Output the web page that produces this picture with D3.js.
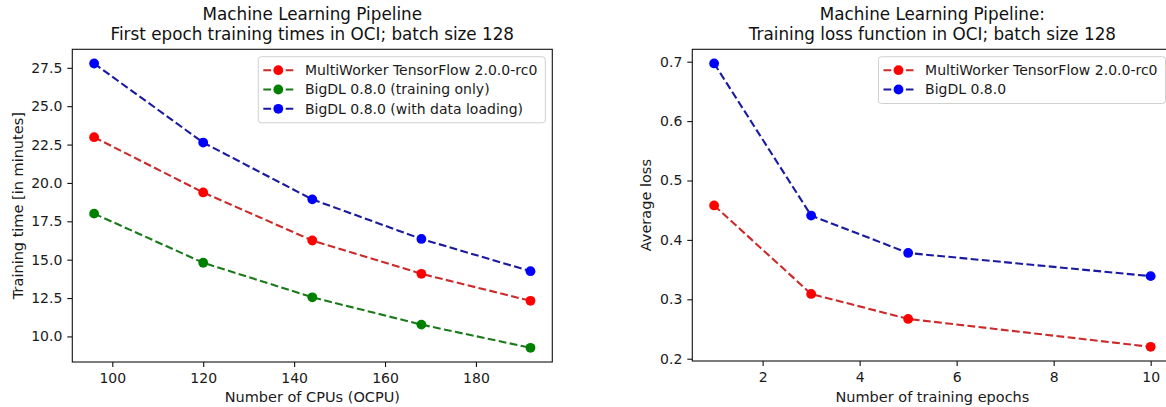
<!DOCTYPE html>
<html>
<head>
<meta charset="utf-8">
<script src="https://cdn.jsdelivr.net/npm/d3@7"></script>
<style>
  body { margin: 0; background: #fff; }
  svg { display: block; font-family: 'DejaVu Sans', sans-serif; }
</style>
</head>
<body>
<div id="chart"></div>
<script>
// left panel: first epoch training time vs number of CPUs
const cpus = [96, 120, 144, 168, 192];
const tfTime = [22.98, 19.38, 16.25, 14.08, 12.32];
const bigdlTrainTime = [18.0, 14.8, 12.55, 10.77, 9.26];
const bigdlLoadTime = [27.78, 22.63, 18.93, 16.35, 14.25];
const cpuTicks = [100, 120, 140, 160, 180];
const timeTicks = [10, 12.5, 15, 17.5, 20, 22.5, 25, 27.5];

// right panel: training loss vs epochs
const epochs = [1, 3, 5, 10];
const tfLoss = [0.458, 0.309, 0.267, 0.22];
const bigdlLoss = [0.697, 0.441, 0.378, 0.339];
const epochTicks = [2, 4, 6, 8, 10];
const lossTicks = [0.2, 0.3, 0.4, 0.5, 0.6, 0.7];

const RED = { marker: '#ff0000', line: '#cc2a2a' };
const GREEN = { marker: '#008000', line: '#1a7a1a' };
const BLUE = { marker: '#0000ff', line: '#1a1aa0' };

const svg = d3.select('#chart').append('svg').attr('width', 1166).attr('height', 407);

// matplotlib style 5% margins on the data range
const padExtent = (vals) => {
  const [lo, hi] = d3.extent(vals);
  const m = (hi - lo) * 0.05;
  return [lo - m, hi + m];
};

const drawPanel = (cfg) => {
  const { box, xs, series, xTicks, yTicks, yFmt, title, xLabel, yLabel, yLabelX } = cfg;

  const x = d3.scaleLinear().domain(padExtent(xs)).range([box.x0, box.x1]);
  const allY = series.reduce((acc, s) => acc.concat(s.values), []);
  const y = d3.scaleLinear().domain(padExtent(allY)).range([box.y1, box.y0]);

  const g = svg.append('g');

  // axes
  const xAxis = g.append('g')
    .attr('transform', `translate(0,${box.y1})`)
    .call(d3.axisBottom(x).tickValues(xTicks).tickSize(5).tickSizeOuter(0).tickPadding(6).tickFormat(d3.format('d')));
  const yAxis = g.append('g')
    .attr('transform', `translate(${box.x0},0)`)
    .call(d3.axisLeft(y).tickValues(yTicks).tickSize(5).tickSizeOuter(0).tickPadding(5).tickFormat(yFmt));
  [xAxis, yAxis].forEach((a) => {
    a.select('.domain').remove();
    a.attr('font-family', 'DejaVu Sans, sans-serif').attr('font-size', 14);
    a.selectAll('line').attr('stroke', '#111').attr('stroke-width', 1.1);
    a.selectAll('text').attr('fill', '#1a1a1a');
  });

  // spines
  g.append('rect')
    .attr('x', box.x0).attr('y', box.y0)
    .attr('width', box.x1 - box.x0).attr('height', box.y1 - box.y0)
    .attr('fill', 'none').attr('stroke', '#111').attr('stroke-width', 1.1);

  // lines + markers
  const line = d3.line().x((d) => x(d[0])).y((d) => y(d[1]));
  series.forEach((s) => {
    const pts = xs.map((v, i) => [v, s.values[i]]);
    g.append('path')
      .attr('d', line(pts))
      .attr('fill', 'none')
      .attr('stroke', s.color.line)
      .attr('stroke-width', 2.1)
      .attr('stroke-dasharray', '7.8,3.4');
    g.selectAll(null).data(pts).enter().append('circle')
      .attr('cx', (d) => x(d[0]))
      .attr('cy', (d) => y(d[1]))
      .attr('r', 4.9)
      .attr('fill', s.color.marker);
  });

  // title, two lines
  const cx = (box.x0 + box.x1) / 2;
  title.forEach((t, i) => {
    svg.append('text')
      .attr('x', cx).attr('y', 20 + i * 19.5)
      .attr('text-anchor', 'middle')
      .attr('font-size', 16.8)
      .attr('fill', '#111')
      .text(t);
  });

  // axis labels
  svg.append('text')
    .attr('x', cx).attr('y', 402)
    .attr('text-anchor', 'middle')
    .attr('font-size', 14.5)
    .attr('fill', '#1a1a1a')
    .text(xLabel);
  svg.append('text')
    .attr('transform', `translate(${yLabelX},${(box.y0 + box.y1) / 2}) rotate(-90)`)
    .attr('text-anchor', 'middle')
    .attr('font-size', 14.5)
    .attr('fill', '#1a1a1a')
    .text(yLabel);

  // legend, upper right
  const leg = svg.append('g');
  const rowH = 19.3;
  const texts = series.map((s) =>
    leg.append('text')
      .attr('y', 0)
      .attr('font-size', 14)
      .attr('fill', '#1a1a1a')
      .attr('dy', '0.35em')
      .text(s.name)
  );
  const textW = d3.max(texts, (t) => t.node().getComputedTextLength());
  const boxW = 5 + 30 + 11.6 + textW + 8;
  const boxH = 13.5 + rowH * (series.length - 1) + 14;
  const lx = box.x1 - 7 - boxW;
  const ly = box.y0 + 7.4;
  leg.insert('rect', ':first-child')
    .attr('x', lx).attr('y', ly)
    .attr('width', boxW).attr('height', boxH)
    .attr('rx', 3)
    .attr('fill', '#fff').attr('fill-opacity', 0.85)
    .attr('stroke', '#d0d0d0').attr('stroke-width', 1);
  series.forEach((s, i) => {
    const ry = ly + 13.5 + i * rowH;
    leg.append('line')
      .attr('x1', lx + 5).attr('x2', lx + 35)
      .attr('y1', ry).attr('y2', ry)
      .attr('stroke', s.color.line)
      .attr('stroke-width', 2.1)
      .attr('stroke-dasharray', '7.8,3.4');
    leg.append('circle')
      .attr('cx', lx + 20).attr('cy', ry).attr('r', 4.9)
      .attr('fill', s.color.marker);
    texts[i].attr('x', lx + 46.6).attr('y', ry);
  });
};

drawPanel({
  box: { x0: 72.3, x1: 552.3, y0: 49.3, y1: 362 },
  xs: cpus,
  series: [
    { name: 'MultiWorker TensorFlow 2.0.0-rc0', values: tfTime, color: RED },
    { name: 'BigDL 0.8.0 (training only)', values: bigdlTrainTime, color: GREEN },
    { name: 'BigDL 0.8.0 (with data loading)', values: bigdlLoadTime, color: BLUE },
  ],
  xTicks: cpuTicks,
  yTicks: timeTicks,
  yFmt: d3.format('.1f'),
  title: ['Machine Learning Pipeline', 'First epoch training times in OCI; batch size 128'],
  xLabel: 'Number of CPUs (OCPU)',
  yLabel: 'Training time [in minutes]',
  yLabelX: 22.5,
});

drawPanel({
  box: { x0: 692.3, x1: 1172.5, y0: 49.3, y1: 361 },
  xs: epochs,
  series: [
    { name: 'MultiWorker TensorFlow 2.0.0-rc0', values: tfLoss, color: RED },
    { name: 'BigDL 0.8.0', values: bigdlLoss, color: BLUE },
  ],
  xTicks: epochTicks,
  yTicks: lossTicks,
  yFmt: d3.format('.1f'),
  title: ['Machine Learning Pipeline:', 'Training loss function in OCI; batch size 128'],
  xLabel: 'Number of training epochs',
  yLabel: 'Average loss',
  yLabelX: 651,
});
</script>
</body>
</html>
